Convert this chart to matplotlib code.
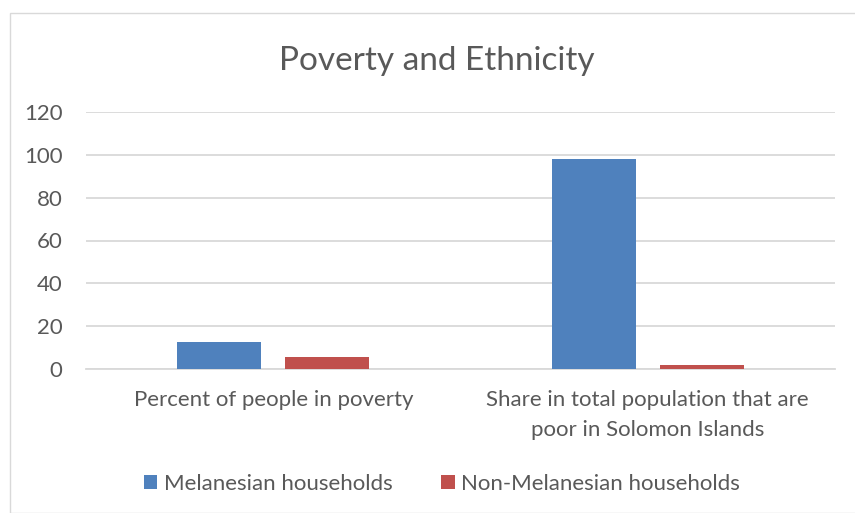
import numpy as np
import matplotlib.pyplot as plt
from matplotlib.patches import Rectangle

categories = ['Percent of people in poverty',
              'Share in total population that are\npoor in Solomon Islands']
melanesian = [12.8, 98]
non_melanesian = [5.8, 1.8]
series_names = ['Melanesian households', 'Non-Melanesian households']
yticks = [0, 20, 40, 60, 80, 100, 120]

plt.rcParams['font.family'] = ['Lato', 'DejaVu Sans']
txt = '#595959'

fig = plt.figure(figsize=(8.55, 5.13), dpi=100)
fig.patches.append(Rectangle((10 / 855, 0), 1, 1 - 13 / 513, transform=fig.transFigure,
                             fill=False, edgecolor='#d9d9d9', lw=1))
ax = fig.add_axes([86 / 855, 1 - 369 / 513, (835 - 86) / 855, (369 - 112) / 513])

ind = np.arange(len(categories))
width = 0.224
off = 0.144
ax.bar(ind - off, melanesian, width, color='#4f81bd', label=series_names[0], zorder=3)
ax.bar(ind + off, non_melanesian, width, color='#c0504d', label=series_names[1], zorder=3)

ax.set_xlim(-0.5, 1.5)
ax.set_ylim(0, 120)
ax.set_yticks(yticks)
ax.set_xticks(ind)
ax.set_xticklabels(categories, fontsize=16, color=txt, linespacing=1.65)
ax.tick_params(axis='y', labelsize=16, labelcolor=txt, length=0, pad=17)
ax.tick_params(axis='x', length=0, pad=15)
ax.grid(axis='y', color='#d9d9d9', lw=1.3, zorder=0)
for s in ['top', 'right', 'left']:
    ax.spines[s].set_visible(False)
ax.spines['bottom'].set_color('#d9d9d9')
ax.spines['bottom'].set_linewidth(1.3)

fig.text(437 / 855, 1 - 61 / 513, 'Poverty and Ethnicity', ha='center', va='center',
         fontsize=24, color=txt)
fig.legend(loc='center', bbox_to_anchor=(442 / 855, 1 - 484 / 513), ncol=2, frameon=False,
           fontsize=16, labelcolor=txt, handlelength=0.6, handleheight=0.6,
           handletextpad=0.3, columnspacing=2.2)

fig.savefig('out.png', dpi=100)
